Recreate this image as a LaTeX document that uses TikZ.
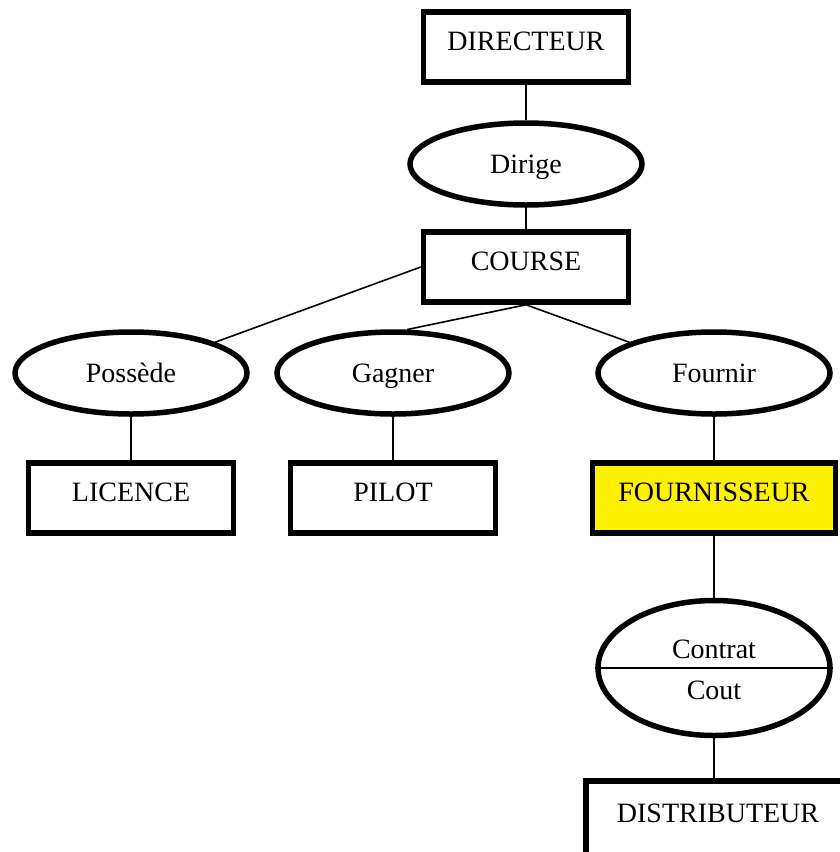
\documentclass[tikz,border=0pt]{standalone}
\usepackage{fontspec}
\setmainfont{Liberation Serif}
\usepackage{tikz}
\usetikzlibrary{shapes.geometric,positioning}

\begin{document}
\begin{tikzpicture}[node distance=2.5cm,on grid,
  entite/.style={draw,line width=5.5pt,minimum width=205pt,minimum height=70pt,
    text height=20pt,text depth=13pt,font=\fontsize{28}{34}\selectfont},
  relation/.style={draw,ellipse,line width=5.5pt,minimum width=232pt,minimum height=82pt,
    inner sep=0pt,text height=19pt,text depth=0pt,font=\fontsize{28}{34}\selectfont},
  texte/.style={inner sep=0pt,font=\fontsize{28}{34}\selectfont},
  lien/.style={line width=1.6pt}]
  \useasboundingbox (0,0) rectangle (839pt,-852pt);
  \node[entite]           (directeur)    at (526pt,-47pt)          {DIRECTEUR};
  \node[relation]         (dirige)       [below=117pt of directeur] {Dirige};
  \node[entite]           (course)       [below=103pt of dirige]    {COURSE};
  \node[relation]         (gagner)       [below left=106pt and 133pt of course] {Gagner};
  \node[relation]         (possede)      [left=262pt of gagner]     {Possède};
  \node[relation]         (fournir)      [right=321pt of gagner]    {Fournir};
  \node[entite]           (licence)      [below=125pt of possede]   {LICENCE};
  \node[entite]           (pilot)        [below=125pt of gagner]    {PILOT};
  \node[entite,fill=yellow,minimum width=243pt] (fournisseur) [below=125pt of fournir] {FOURNISSEUR};
  \node[relation,minimum height=135pt] (contrat) [below=170pt of fournisseur] {};
  \node[entite,minimum width=264pt,minimum height=76pt,xshift=4pt] (distributeur) [below=151pt of contrat] {DISTRIBUTEUR};
  % attributs de la relation
  \node[texte,anchor=base] (contrat-haut) at ([yshift=10pt]contrat.center)  {Contrat};
  \node[texte,anchor=base] (contrat-bas)  at ([yshift=-31pt]contrat.center) {Cout};
  \draw[lien] (contrat.west) -- (contrat.east);
  \path[lien] (directeur) edge (dirige)
  			(dirige) edge (course)
  			(course.west) edge (possede)
  			(course.south) edge (gagner.72)
  			(course.south) edge (fournir)
  			(possede) edge (licence)
  			(gagner) edge (pilot)
  			(fournir) edge (fournisseur)
  			(fournisseur) edge (contrat)
  			(contrat) edge (distributeur.north -| contrat);
\end{tikzpicture}
\end{document}
